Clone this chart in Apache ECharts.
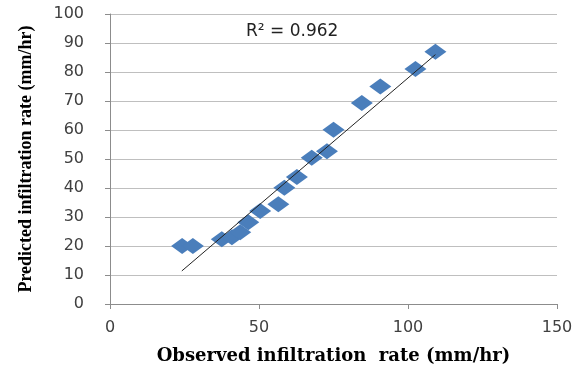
<!DOCTYPE html>
<html>
<head>
<meta charset="utf-8">
<script src="https://cdn.jsdelivr.net/npm/echarts@6/dist/echarts.min.js"></script>
<style>
html,body{margin:0;padding:0;background:#fff;}
#c{width:583px;height:370px;}
</style>
</head>
<body>
<div id="c"></div>
<script>
var observed  = [24.2, 27.8, 37.5, 40.9, 43.7, 46.4, 50.4, 56.5, 58.5, 62.7, 67.7, 72.8, 75.0, 84.5, 90.7, 102.5, 109.2];
var predicted = [20.0, 20.0, 22.3, 23.0, 24.7, 28.2, 32.1, 34.4, 40.1, 43.8, 50.4, 52.7, 60.1, 69.3, 75.0, 81.0, 87.0];
var trendX = [24.1, 109.2];
var trendY = [11.4, 86.0];
var rSquaredText = 'R² = 0.962';
var xTitle = 'Observed infiltration  rate (mm/hr)';
var yTitle = 'Predicted infiltration rate (mm/hr)';

var points = observed.map(function(x, i){ return [x, predicted[i]]; });
var trend = trendX.map(function(x, i){ return [x, trendY[i]]; });

var chart = echarts.init(document.getElementById('c'));
chart.setOption({
  animation: false,
  grid: {left: 110, right: 26, top: 14, bottom: 65},
  graphic: [{
    type: 'text', left: 246, top: 23,
    style: {text: rSquaredText, font: '17px "DejaVu Sans"', fill: '#222'}
  }],
  xAxis: {
    type: 'value', min: 0, max: 150, interval: 50,
    name: xTitle, nameLocation: 'middle', nameGap: 43,
    nameTextStyle: {fontFamily: '"DejaVu Serif"', fontWeight: 'bold', fontSize: 18, color: '#000'},
    axisLine: {show: true, lineStyle: {color: '#8c8c8c'}},
    axisTick: {show: true, length: 5, lineStyle: {color: '#8c8c8c'}},
    axisLabel: {margin: 16, fontFamily: '"DejaVu Sans"', fontSize: 16, color: '#404040'},
    splitLine: {show: false}
  },
  yAxis: {
    type: 'value', min: 0, max: 100, interval: 10,
    name: yTitle, nameLocation: 'middle', nameGap: 75, nameRotate: 90,
    nameTextStyle: {fontFamily: '"Liberation Serif"', fontWeight: 'bold', fontSize: 18, color: '#000'},
    axisLine: {show: true, lineStyle: {color: '#8c8c8c'}},
    axisTick: {show: true, length: 5, lineStyle: {color: '#8c8c8c'}},
    axisLabel: {margin: 26, fontFamily: '"DejaVu Sans"', fontSize: 16, color: '#404040'},
    splitLine: {show: true, lineStyle: {color: '#bfbfbf', width: 1}}
  },
  series: [{
    type: 'scatter',
    data: points,
    symbol: 'diamond',
    symbolSize: [22, 16],
    itemStyle: {color: '#4a7ebb', opacity: 1, borderWidth: 0},
    z: 2
  }, {
    type: 'line',
    data: trend,
    symbol: 'none',
    lineStyle: {color: '#222', width: 1},
    z: 3
  }]
});
</script>
</body>
</html>
